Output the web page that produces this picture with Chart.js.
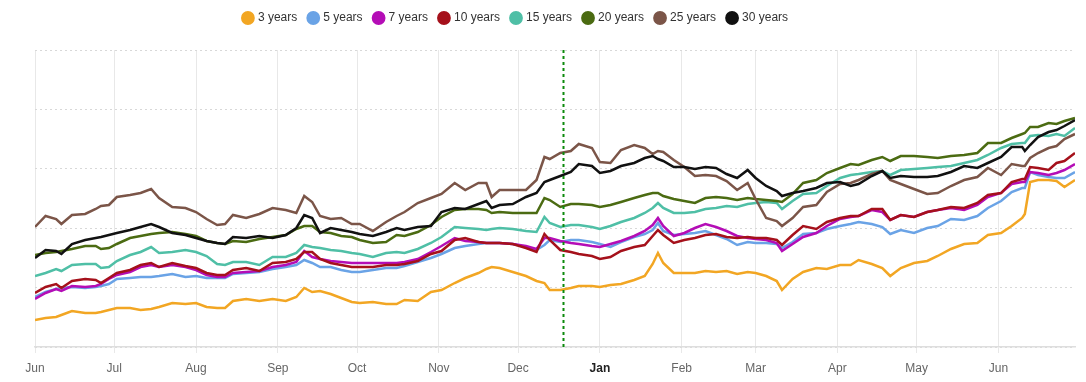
<!DOCTYPE html>
<html>
<head>
<meta charset="utf-8">
<script src="https://cdn.jsdelivr.net/npm/chart.js@4/dist/chart.umd.min.js"></script>
<style>
html,body{margin:0;padding:0;background:#fff;}
#wrap{width:1086px;height:382px;position:relative;}
</style>
</head>
<body>
<div id="wrap"><canvas id="c" width="1086" height="382"></canvas></div>
<script>
// Day index from 1 June (day 0) to 30 June of the following year (day 394)
const days = [0,4,8,10,14,19,23,25,28,31,36,40,44,47,52,57,61,65,69,72,75,80,85,90,95,99,102,105,108,112,116,120,123,128,133,137,140,145,150,154,159,163,168,171,173,176,181,186,190,193,195,199,203,206,211,214,218,222,227,231,234,236,238,242,246,250,254,258,262,266,270,273,277,281,283,287,291,296,300,305,309,312,317,321,324,328,333,338,342,347,352,357,361,366,370,374,375,377,380,384,387,390,394];

const y3  = [27,29,30,32,36,34,34,35,37,39,39,37,38,40,44,43,44,40,39,39,46,48,46,48,46,50,59,55,56,53,49,45,44,45,43,43,47,46,55,57,64,69,74,78,80,79,75,71,66,64,57,57,59,61,61,60,62,63,67,71,83,94,84,74,74,74,76,75,76,73,75,74,71,66,57,68,75,79,78,82,82,87,83,79,71,79,84,86,91,98,103,104,112,114,121,129,133,165,167,167,166,160,167];
const y5  = [50,55,58,59,60,59,60,61,63,68,69,70,70,71,73,70,71,69,69,69,73,74,75,78,80,82,87,84,80,80,77,75,75,77,79,79,81,85,89,93,99,101,103,104,104,104,103,100,97,102,107,105,107,107,105,103,100,105,110,113,117,124,116,112,113,114,116,112,108,102,105,104,104,103,99,105,113,114,118,121,123,125,123,120,113,117,114,119,121,128,127,131,139,146,155,159,159,175,172,170,169,169,175];
const y7  = [48,54,58,56,61,60,61,63,68,72,75,80,82,80,82,80,77,72,70,70,74,75,76,80,82,85,96,90,88,86,85,84,84,84,84,84,85,88,95,101,109,106,105,104,104,104,103,101,98,109,109,106,104,103,101,100,103,106,111,116,122,129,121,111,114,119,123,120,116,111,109,108,107,104,96,103,110,114,121,128,130,131,137,135,127,132,130,135,137,139,137,142,150,154,163,165,165,175,174,172,174,177,183];
const y10 = [54,60,63,59,66,68,67,64,69,74,77,82,84,80,84,81,79,74,72,72,77,79,76,84,85,88,95,95,88,84,82,80,80,80,82,82,83,86,93,96,107,109,105,104,104,104,103,99,95,113,107,97,95,93,91,88,90,96,100,102,111,117,112,104,107,109,112,113,110,109,110,109,109,107,102,112,121,118,125,129,131,131,138,138,127,132,130,135,137,140,139,144,152,154,165,168,168,180,179,177,184,186,194];
const y15 = [71,74,78,76,82,83,83,79,80,86,92,95,100,94,95,97,95,91,83,82,85,85,82,90,90,94,102,100,99,97,96,94,93,90,94,95,94,98,104,110,120,119,118,117,118,119,118,116,115,130,124,120,122,122,120,118,121,125,129,134,139,144,139,134,134,135,138,139,141,140,143,144,145,144,138,146,153,154,161,169,172,173,175,176,172,177,178,179,180,181,184,187,192,199,203,204,204,211,212,211,213,211,219];
const y20 = [92,94,95,96,98,101,101,98,99,103,109,111,113,114,115,113,111,106,104,103,106,105,108,110,112,118,121,121,115,114,111,110,107,104,105,112,111,115,122,130,137,138,138,137,134,135,134,134,134,149,147,140,143,143,142,140,142,145,149,152,154,154,151,148,146,144,149,150,149,147,149,148,147,146,145,153,164,167,174,179,183,182,187,190,186,191,191,190,189,191,192,194,204,204,209,213,214,220,220,224,223,226,229];
const y25 = [120,131,128,123,132,133,138,141,142,150,152,154,158,149,140,139,135,128,122,123,132,129,133,139,137,134,151,145,131,128,129,123,123,116,125,131,135,144,149,153,164,157,164,164,150,157,157,157,167,190,188,194,196,203,199,185,184,197,202,199,193,196,195,187,180,171,172,171,166,157,164,148,129,126,121,129,140,142,155,163,164,167,173,176,167,163,158,153,154,161,167,170,179,172,183,181,181,189,194,199,201,208,213];
const y30 = [89,97,96,93,103,107,109,110,112,114,117,120,123,120,114,112,109,106,104,103,110,109,111,109,112,119,132,129,114,119,117,115,113,111,115,119,117,120,121,135,139,138,143,146,139,142,143,150,154,165,167,171,175,183,181,174,176,181,184,189,191,188,186,180,180,178,180,179,173,169,177,169,161,156,151,154,156,159,164,165,161,163,171,176,169,171,170,170,171,175,181,179,184,190,200,200,196,202,210,215,217,221,227];

const seriesNames  = ['3 years','5 years','7 years','10 years','15 years','20 years','25 years','30 years'];
const seriesColors = ['#f2a623','#6aa3e6','#b40db6','#a5111b','#4fbfa6','#4b6b12','#7b5548','#111111'];
const seriesValues = [y3,y5,y7,y10,y15,y20,y25,y30];

const monthTicks  = [0,30,61,92,122,153,183,214,245,273,304,334,365];
const monthLabels = ['Jun','Jul','Aug','Sep','Oct','Nov','Dec','Jan','Feb','Mar','Apr','May','Jun'];
const yGridTicks  = [0,59.4,118.8,178.2,237.6,297];
const markerDay   = 200;
const xMax = 394;

Chart.defaults.font.family = '"Liberation Sans", Arial, sans-serif';
Chart.defaults.font.size = 12;

const datasets = seriesNames.map((name, i) => ({
  label: name,
  data: days.map((d, k) => ({x: d, y: seriesValues[i][k]})),
  borderColor: seriesColors[i],
  backgroundColor: seriesColors[i],
  borderWidth: 2.5,
  pointRadius: 0,
  pointHoverRadius: 0,
  tension: 0,
  order: seriesNames.length - i
}));

const legendBox = {
  id: 'legendBox',
  beforeInit(chart) {
    const orig = chart.legend.fit;
    chart.legend.fit = function() {
      orig.call(this);
      this.height = 50;
    };
  },
  afterLayout(chart) {
    const lg = chart.legend;
    lg.left = 0;
    lg.right = 1032;
    lg.top = 0;
  }
};

const markerLine = {
  id: 'markerLine',
  afterDatasetsDraw(chart) {
    const {ctx, chartArea, scales} = chart;
    const x = Math.round(scales.x.getPixelForValue(markerDay)) + 0.5;
    ctx.save();
    ctx.strokeStyle = '#0c8a0c';
    ctx.lineWidth = 2;
    ctx.setLineDash([3, 3]);
    ctx.beginPath();
    ctx.moveTo(x, chartArea.top);
    ctx.lineTo(x, chartArea.bottom);
    ctx.stroke();
    ctx.restore();
  }
};

new Chart(document.getElementById('c'), {
  type: 'line',
  data: {datasets},
  plugins: [legendBox, markerLine],
  options: {
    responsive: false,
    animation: false,
    events: [],
    layout: {padding: {left: 35, right: 11, top: 0, bottom: 0}},
    plugins: {
      tooltip: {enabled: false},
      legend: {
        position: 'top',
        labels: {
          usePointStyle: true,
          pointStyle: 'circle',
          boxWidth: 8,
          boxHeight: 8,
          padding: 12,
          color: '#333',
          font: {size: 12},
          sort: (a, b) => a.datasetIndex - b.datasetIndex
        }
      }
    },
    scales: {
      x: {
        type: 'linear',
        min: 0,
        max: xMax,
        afterBuildTicks: (axis) => { axis.ticks = monthTicks.map(v => ({value: v})); },
        afterFit: (scale) => { scale.height = 35; },
        ticks: {
          autoSkip: false,
          maxRotation: 0,
          padding: 8,
          color: (c) => (c.tick && c.tick.value === 214) ? '#222' : '#666',
          font: (c) => (c.tick && c.tick.value === 214) ? {weight: 'bold', size: 12} : {size: 12},
          callback: (v) => { const i = monthTicks.indexOf(v); return i >= 0 ? monthLabels[i] : ''; }
        },
        grid: {
          color: '#e8e8e8',
          lineWidth: 1,
          tickLength: 6,
          drawTicks: true
        },
        border: {display: true, color: '#dedede', width: 1.5}
      },
      y: {
        type: 'linear',
        min: 0,
        max: 297,
        afterBuildTicks: (axis) => { axis.ticks = yGridTicks.map(v => ({value: v})); },
        ticks: {display: false},
        grid: {color: '#d8d8d8', lineWidth: 1, drawTicks: false},
        border: {display: false, dash: [2, 3]}
      }
    }
  }
});
</script>
</body>
</html>
